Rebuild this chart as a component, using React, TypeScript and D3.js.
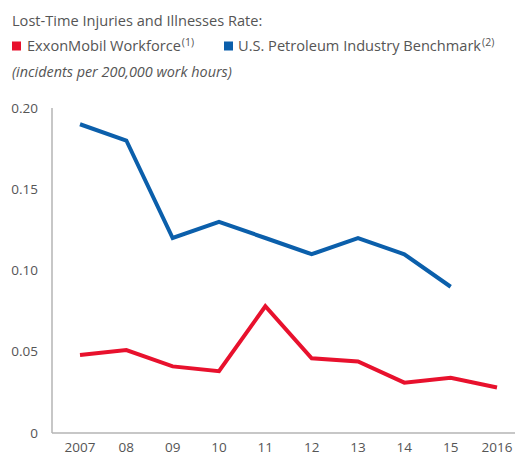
import React from 'react';
import * as d3 from 'd3';

const years = ['2007', '08', '09', '10', '11', '12', '13', '14', '15', '2016'];
const exxonRate = [0.048, 0.051, 0.041, 0.038, 0.078, 0.046, 0.044, 0.031, 0.034, 0.028];
const industryRate = [0.19, 0.18, 0.12, 0.13, 0.12, 0.11, 0.12, 0.11, 0.09];
const yTicks = [0, 0.05, 0.1, 0.15, 0.2];

const RED = '#e8112d';
const BLUE = '#0b5fab';
const TEXT = '#555';
const FONT = '"Open Sans", "Noto Sans", sans-serif';

const width = 519;
const height = 459;
const margin = { top: 108, right: 4, bottom: 26, left: 52 };

export default function App() {
    const innerW = width - margin.left - margin.right;
    const innerH = height - margin.top - margin.bottom;

    const x = d3.scalePoint<string>()
        .domain(years)
        .range([28, innerW - 18]);

    const y = d3.scaleLinear()
        .domain([0, 0.2])
        .range([innerH, 0]);

    const line = d3.line<number>()
        .x((d, i) => x(years[i]) as number)
        .y(d => y(d))
        .curve(d3.curveLinear);

    const tickLabel = (v: number) => (v === 0 ? '0' : d3.format('.2f')(v));

    return (
        <svg width={width} height={height} style={{ position: 'absolute', left: 0, top: 0, fontFamily: FONT }}>
            {/* header */}
            <text x={12} y={26} fontSize={14.6} fill={TEXT}>Lost-Time Injuries and Illnesses Rate:</text>
            <g transform="translate(12,51)">
                <rect x={0} y={-9.5} width={9} height={9} fill={RED} />
                <text x={15} y={0} fontSize={14.6} fill={TEXT}>
                    ExxonMobil Workforce<tspan fontSize={10.5} dx={1} dy={-5}>(1)</tspan>
                </text>
                <rect x={212} y={-9.5} width={9} height={9} fill={BLUE} />
                <text x={226} y={0} fontSize={14.6} fill={TEXT}>
                    U.S. Petroleum Industry Benchmark<tspan fontSize={10.5} dx={1} dy={-5}>(2)</tspan>
                </text>
            </g>
            <text x={12} y={77} fontSize={14.4} fontStyle="italic" fill={TEXT}>(incidents per 200,000 work hours)</text>

            <g transform={`translate(${margin.left},${margin.top})`}>
                {/* y ticks */}
                {yTicks.map(t => (
                    <text key={t} x={-14} y={y(t)} dy="0.35em" textAnchor="end" fontSize={13.5} fill={TEXT}>
                        {tickLabel(t)}
                    </text>
                ))}
                {/* x labels */}
                {years.map(yr => (
                    <text key={yr} x={x(yr)} y={innerH + 19} textAnchor="middle" fontSize={13.5} fill={TEXT}>
                        {yr}
                    </text>
                ))}
                {/* axes */}
                <line x1={0} x2={0} y1={0} y2={innerH} stroke="#b5b5b5" strokeWidth={1.5} />
                <line x1={0} x2={innerW} y1={innerH} y2={innerH} stroke="#b5b5b5" strokeWidth={1.5} />

                <path d={line(industryRate) ?? ''} fill="none" stroke={BLUE} strokeWidth={4} strokeLinejoin="miter" />
                <path d={line(exxonRate) ?? ''} fill="none" stroke={RED} strokeWidth={4} strokeLinejoin="miter" />
            </g>
        </svg>
    );
}
